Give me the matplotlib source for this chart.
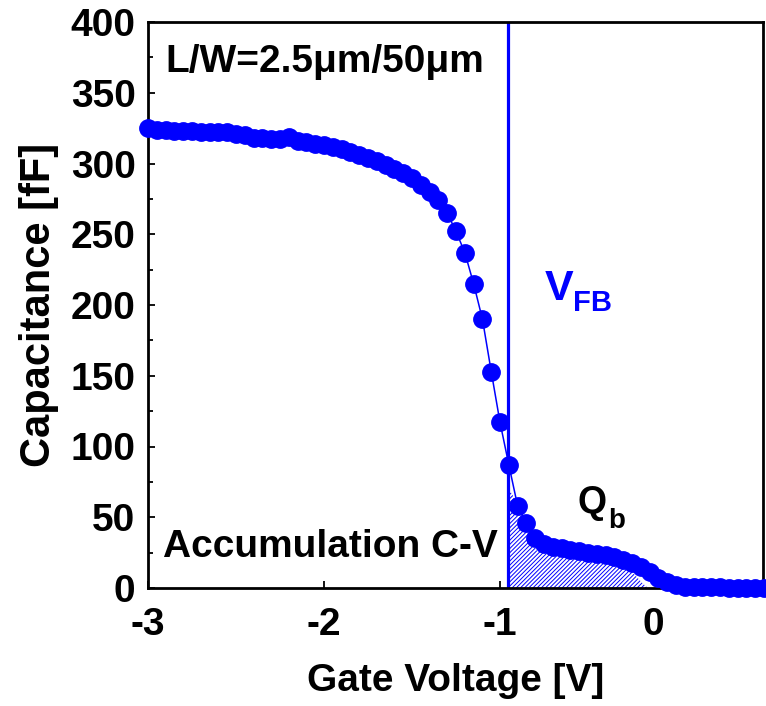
import numpy as np
import matplotlib
matplotlib.use("Agg")
import matplotlib.pyplot as plt
from matplotlib.ticker import MultipleLocator
from matplotlib.transforms import ScaledTranslation

plt.rcParams['font.family'] = ['Liberation Sans', 'DejaVu Sans']
plt.rcParams['font.weight'] = 'bold'
plt.rcParams['axes.labelweight'] = 'bold'
plt.rcParams['hatch.linewidth'] = 0.7
plt.rcParams['hatch.color'] = '#0000ff'

BLUE = '#0000ff'

# gate voltage sweep [V] and measured capacitance [fF]
gate_v = np.round(np.arange(-3.0, 0.501, 0.05), 2)
cap_ff = [325, 324, 323.5, 323, 323, 323, 322.5, 322.5, 322, 322,
          321, 320, 318, 318, 317.5, 317.5, 319, 316, 315, 314,
          313, 312, 310, 308, 306, 304, 302, 299, 296, 293,
          290, 285, 280, 274, 265, 252, 237, 215, 190, 153,
          117, 87, 58, 46, 35, 31, 29, 28, 27, 26,
          25, 24, 23, 22, 20, 18, 15, 11, 7, 4,
          2, 1, 1, 0.5, 0.5, 0.5, 0, 0, 0, 0, 0]

# flat-band voltage
v_fb = -0.955

# outline of the Qb region (right of V_FB)
qb_v = [-0.955, -0.886, -0.79, -0.68, -0.49, -0.36, -0.26, -0.19, -0.16]
qb_c = [71, 57, 26, 23, 22, 18.6, 12.7, 3.3, 0]

xticks = [-3, -2, -1, 0]
xtick_labels = ['-3', '-2', '-1', '0']

fig = plt.figure(figsize=(7.66, 7.06), dpi=100)
ax = fig.add_axes([148/766, 1 - 588/706, 615/766, 566/706])

ax.fill_between(qb_v, 0, qb_c, facecolor='none', edgecolor=BLUE,
                hatch='////////', linewidth=0, zorder=1)
ax.axvline(v_fb, color=BLUE, lw=2.3, zorder=2)
ax.plot(gate_v, cap_ff, '-', color=BLUE, lw=1.1, zorder=3)
ax.plot(gate_v, cap_ff, 'o', color=BLUE, ms=12.5, mec=BLUE, zorder=4,
        clip_on=False)

ax.set_xlim(-3, 0.494)
ax.set_ylim(0, 400)
ax.set_xticks(xticks)
ax.set_xticklabels(xtick_labels)
ax.yaxis.set_major_locator(MultipleLocator(50))
ax.yaxis.set_minor_locator(MultipleLocator(25))
ax.tick_params(axis='both', which='both', direction='in', labelsize=28,
               width=1.3)
ax.tick_params(axis='both', which='major', length=5)
ax.tick_params(axis='y', which='minor', length=3.5)
ax.tick_params(axis='y', pad=9)
ax.tick_params(axis='x', pad=14)
for s in ax.spines.values():
    s.set_linewidth(2)

# the "0" label sits a little left of its tick
lbl0 = ax.get_xticklabels()[3]
lbl0.set_transform(lbl0.get_transform()
                   + ScaledTranslation(-0.23, 0, fig.dpi_scale_trans))

ax.set_xlabel('Gate Voltage [V]', fontsize=28, labelpad=14)
ax.set_ylabel('Capacitance [fF]', fontsize=30, labelpad=8)

ax.text(-2.903, 371.7, 'L/W=2.5\u03bcm/50\u03bcm', fontsize=28,
        ha='left', va='center')
ax.text(-2.915, 29, 'Accumulation C-V', fontsize=28, ha='left', va='center')
ax.text(-0.744, 203.5, 'V', fontsize=31, color=BLUE, ha='left',
        va='baseline')
ax.text(-0.585, 195.8, 'FB', fontsize=21, color=BLUE, ha='left',
        va='baseline')
ax.text(-0.562, 53, 'Q', fontsize=27, ha='left', va='baseline')
ax.text(-0.386, 42.4, 'b', fontsize=20, ha='left', va='baseline')

fig.savefig('out.png', dpi=100)
